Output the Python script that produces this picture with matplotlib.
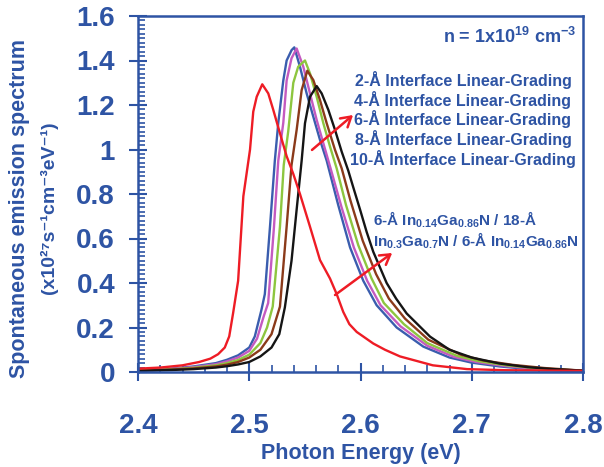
import matplotlib
matplotlib.use("Agg")
import matplotlib.pyplot as plt
from matplotlib.ticker import MultipleLocator

plt.rcParams['font.family'] = ['Liberation Sans', 'DejaVu Sans']
plt.rcParams['mathtext.fontset'] = 'custom'
plt.rcParams['mathtext.rm'] = 'Liberation Sans:bold'
plt.rcParams['mathtext.it'] = 'Liberation Sans:bold'
plt.rcParams['mathtext.bf'] = 'Liberation Sans:bold'

# ---------------- data ----------------
x_blue = [2.40, 2.43, 2.45, 2.47, 2.48, 2.49, 2.50, 2.505, 2.511, 2.514, 2.5186, 2.523, 2.5261,
          2.5306, 2.5336, 2.5381, 2.5405, 2.5456, 2.5516, 2.5576, 2.5636, 2.5696, 2.580, 2.5906,
          2.6025, 2.6145, 2.6325, 2.6565, 2.68, 2.70, 2.725, 2.75, 2.80]
y_blue = [0.008, 0.015, 0.025, 0.04, 0.055, 0.075, 0.11, 0.16, 0.28, 0.35, 0.65, 0.95, 1.12,
          1.31, 1.40, 1.447, 1.459, 1.372, 1.252, 1.147, 1.043, 0.95, 0.75, 0.56,
          0.41, 0.30, 0.20, 0.114, 0.065, 0.042, 0.025, 0.014, 0.005]

x_mag = [2.40, 2.43, 2.45, 2.47, 2.48, 2.49, 2.50, 2.507, 2.513, 2.517, 2.5222, 2.5261, 2.5306,
         2.5336, 2.538, 2.5426, 2.5486, 2.5546, 2.5606, 2.5666, 2.5726, 2.583, 2.594, 2.606,
         2.618, 2.636, 2.66, 2.684, 2.704, 2.73, 2.755, 2.80]
y_mag = [0.008, 0.014, 0.022, 0.035, 0.048, 0.065, 0.095, 0.15, 0.25, 0.31, 0.65, 0.95, 1.12,
         1.31, 1.41, 1.454, 1.372, 1.252, 1.133, 1.028, 0.924, 0.74, 0.56, 0.41,
         0.30, 0.205, 0.118, 0.068, 0.045, 0.027, 0.015, 0.005]

x_grn = [2.40, 2.43, 2.45, 2.47, 2.48, 2.49, 2.50, 2.51, 2.516, 2.5211, 2.5276, 2.531, 2.535,
         2.5396, 2.544, 2.5501, 2.5546, 2.5606, 2.5666, 2.5726, 2.5786, 2.587, 2.598, 2.610,
         2.621, 2.639, 2.66, 2.687, 2.707, 2.733, 2.76, 2.80]
y_grn = [0.007, 0.012, 0.019, 0.03, 0.04, 0.054, 0.078, 0.13, 0.20, 0.294, 0.653, 0.93, 1.08,
         1.30, 1.372, 1.40, 1.342, 1.237, 1.118, 1.013, 0.915, 0.75, 0.57, 0.42,
         0.31, 0.215, 0.13, 0.072, 0.048, 0.029, 0.016, 0.005]

x_brn = [2.40, 2.43, 2.45, 2.47, 2.48, 2.49, 2.50, 2.51, 2.52, 2.5276, 2.5336, 2.538, 2.5426,
         2.5471, 2.5522, 2.5576, 2.5636, 2.5696, 2.5771, 2.5831, 2.591, 2.602, 2.614, 2.6255,
         2.64, 2.661, 2.69, 2.71, 2.737, 2.765, 2.80]
y_brn = [0.006, 0.011, 0.016, 0.025, 0.033, 0.045, 0.065, 0.10, 0.17, 0.294, 0.653, 0.93, 1.088,
         1.267, 1.354, 1.312, 1.222, 1.118, 0.998, 0.915, 0.77, 0.59, 0.44, 0.33,
         0.24, 0.145, 0.078, 0.052, 0.032, 0.018, 0.006]

x_blk = [2.40, 2.43, 2.45, 2.47, 2.48, 2.49, 2.50, 2.51, 2.52, 2.527, 2.532, 2.538, 2.5426,
         2.5471, 2.5501, 2.5546, 2.5606, 2.5651, 2.5711, 2.5771, 2.5831, 2.589, 2.5935, 2.5996,
         2.6055, 2.6115, 2.6175, 2.6235, 2.632, 2.6415, 2.6625, 2.68, 2.70, 2.725, 2.75, 2.77, 2.80]
y_blk = [0.005, 0.009, 0.013, 0.02, 0.026, 0.034, 0.045, 0.07, 0.11, 0.17, 0.29, 0.50, 0.73,
         0.95, 1.118, 1.237, 1.285, 1.252, 1.178, 1.088, 0.99, 0.905, 0.83, 0.73,
         0.63, 0.54, 0.47, 0.40, 0.33, 0.263, 0.159, 0.10, 0.065, 0.038, 0.022, 0.014, 0.006]

x_red = [2.40, 2.42, 2.44, 2.455, 2.465, 2.472, 2.478, 2.482, 2.4855, 2.49, 2.4947, 2.5007,
         2.5036, 2.5067, 2.5117, 2.5171, 2.5216, 2.5276, 2.5336, 2.5396, 2.5456, 2.5546,
         2.5636, 2.5726, 2.5786, 2.5845, 2.59, 2.5966, 2.6115, 2.622, 2.6355, 2.665, 2.6957,
         2.73, 2.80]
y_red = [0.015, 0.02, 0.03, 0.045, 0.06, 0.08, 0.11, 0.16, 0.265, 0.41, 0.79, 1.0,
         1.17, 1.237, 1.293, 1.252, 1.178, 1.073, 0.97, 0.89, 0.80, 0.653,
         0.503, 0.42, 0.35, 0.27, 0.215, 0.18, 0.128, 0.10, 0.07, 0.03, 0.013,
         0.008, 0.005]

series = [
    (x_blue, y_blue, '#3A5DAE'),
    (x_mag, y_mag, '#C45AC0'),
    (x_grn, y_grn, '#8DC63F'),
    (x_brn, y_brn, '#8B3A1A'),
    (x_blk, y_blk, '#151515'),
    (x_red, y_red, '#EE1C25'),
]

legend_lines = ["2-Å Interface Linear-Grading",
                "4-Å Interface Linear-Grading",
                "6-Å Interface Linear-Grading",
                "8-Å Interface Linear-Grading",
                "10-Å Interface Linear-Grading"]

TXT = '#2E54A4'

fig = plt.figure(figsize=(6.04, 4.67), dpi=100)
ax = fig.add_axes([138/604, 1-372/467, (583-138)/604, (372-16)/467])

for xs, ys, c in series:
    ax.plot(xs, ys, color=c, lw=1.7, solid_joinstyle='round', solid_capstyle='round')

ax.set_xlim(2.4, 2.8)
ax.set_ylim(0, 1.6)
ax.xaxis.set_minor_locator(MultipleLocator(0.02))
ax.yaxis.set_minor_locator(MultipleLocator(0.02))
ax.set_xticks([2.4, 2.5, 2.6, 2.7, 2.8])
ax.set_xticklabels(['2.4', '2.5', '2.6', '2.7', '2.8'])
ax.set_yticks([0, 0.2, 0.4, 0.6, 0.8, 1.0, 1.2, 1.4, 1.6])
ax.set_yticklabels(['0', '0.2', '0.4', '0.6', '0.8', '1', '1.2', '1.4', '1.6'])

for s in ax.spines.values():
    s.set_color(TXT)
    s.set_linewidth(1.8)

ax.tick_params(which='major', direction='inout', length=13, width=1.5, color=TXT,
               labelcolor=TXT, labelsize=20)
ax.tick_params(which='minor', direction='in', length=5, width=1.2, color=TXT)
ax.tick_params(axis='x', which='major', pad=23)
ax.tick_params(axis='y', which='major', pad=10)
for lab in ax.get_xticklabels() + ax.get_yticklabels():
    lab.set_fontweight('bold')

ax.set_xlabel('Photon Energy (eV)', fontsize=15.5, fontweight='bold', color=TXT, labelpad=3)

fig.text(20/604, 1-209/467, 'Spontaneous emission spectrum', rotation=90, ha='center',
         va='center', fontsize=15.5, fontweight='bold', color=TXT)
fig.text(49/604, 1-208/467, '(x10²⁷s⁻¹cm⁻³eV⁻¹)', rotation=90, ha='center',
         va='center', fontsize=14, fontweight='bold', color=TXT,
         family=['Liberation Sans', 'DejaVu Sans'])

fig.text(576/604, 1-37/467, r'n = 1x10$^{19}$ cm$^{-3}$', ha='right', va='center',
         fontsize=13, fontweight='bold', color=TXT)

for i, line in enumerate(legend_lines):
    fig.text(463/604, 1-(80 + i*19.7)/467, line, ha='center', va='center',
             fontsize=11.5, fontweight='bold', color=TXT)

fig.text(373/604, 1-220/467, r'6-Å In$_{0.14}$Ga$_{0.86}$N / 18-Å', ha='left', va='center',
         fontsize=11, fontweight='bold', color=TXT)
fig.text(373/604, 1-241/467, r'In$_{0.3}$Ga$_{0.7}$N / 6-Å In$_{0.14}$Ga$_{0.86}$N',
         ha='left', va='center', fontsize=11, fontweight='bold', color=TXT)

ax.annotate('', xy=(2.5933, 1.155), xytext=(2.5564, 0.998),
            arrowprops=dict(arrowstyle='->,head_length=0.5,head_width=0.3', color='#EE1C25',
                            lw=1.8, mutation_scale=14, shrinkA=0, shrinkB=0))
ax.annotate('', xy=(2.6285, 0.535), xytext=(2.5771, 0.346),
            arrowprops=dict(arrowstyle='->,head_length=0.5,head_width=0.3', color='#EE1C25',
                            lw=1.8, mutation_scale=14, shrinkA=0, shrinkB=0))

fig.savefig('out.png', dpi=100)
